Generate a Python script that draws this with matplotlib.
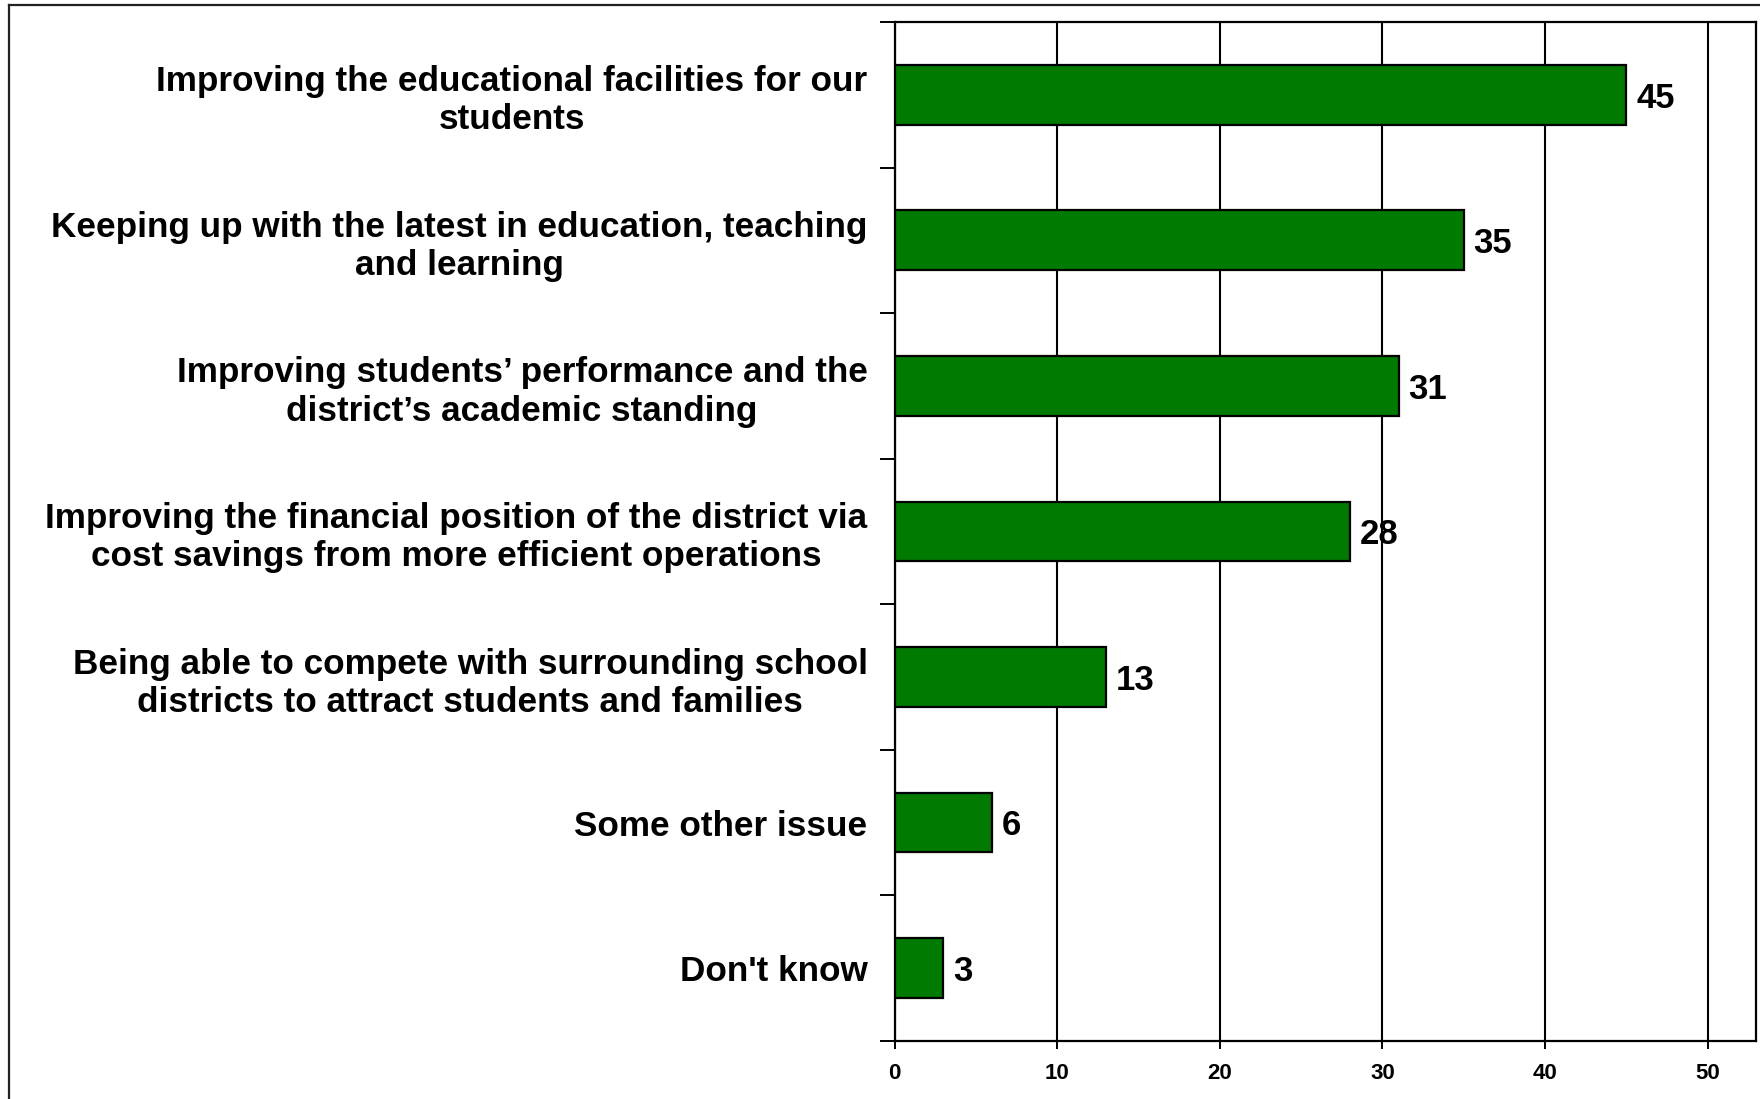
import numpy as np
import matplotlib
matplotlib.use("Agg")
from matplotlib import pyplot as plt
from matplotlib.lines import Line2D

plt.rcParams['font.family'] = ['Liberation Sans', 'DejaVu Sans']

# survey answers, top to bottom
categories = [
    "Improving the educational facilities for our\nstudents",
    "Keeping up with the latest in education, teaching\nand learning",
    "Improving students\u2019 performance and the\ndistrict\u2019s academic standing",
    "Improving the financial position of the district via\ncost savings from more efficient operations",
    "Being able to compete with surrounding school\ndistricts to attract students and families",
    "Some other issue",
    "Don't know",
]
values = [45, 35, 31, 28, 13, 6, 3]
xticks = [0, 10, 20, 30, 40, 50]

barColor = "#007A00"


def drawChart():
    fig = plt.figure(figsize=(17.6, 10.99), dpi=100)
    ax = fig.add_axes([0.5083, 0.0528, 0.4897, 0.9272])

    ypos = np.arange(len(categories))
    ax.barh(ypos, values, height=0.41, color=barColor, edgecolor="black",
            linewidth=1.6, zorder=3)

    # value labels just right of each bar
    for y, v in zip(ypos, values):
        ax.annotate(str(v), (v, y), xytext=(7, -2.4), textcoords="offset points",
                    va="center", ha="left", fontsize=25, fontweight="bold",
                    zorder=4)

    ax.set_xlim(0, 53)
    ax.set_ylim(len(categories) - 0.5, -0.5)

    ax.set_xticks(xticks)
    ax.set_xticklabels([str(t) for t in xticks], fontsize=16, fontweight="bold")
    ax.tick_params(axis="x", direction="out", length=6, width=1.4, pad=10)

    # category names as major labels, boundary ticks as minor
    ax.set_yticks(ypos)
    ax.set_yticklabels(categories, fontsize=25.3, fontweight="bold",
                       multialignment="center")
    ax.tick_params(axis="y", which="major", length=0, pad=19.5)
    ax.set_yticks(np.arange(-0.5, len(categories), 1.0), minor=True)
    ax.tick_params(axis="y", which="minor", direction="out", length=11, width=1.4)

    ax.xaxis.grid(True, color="black", linewidth=1.5, zorder=0)
    ax.set_axisbelow(True)
    for s in ax.spines.values():
        s.set_linewidth(1.6)

    # outer frame of the slide, cut off at right and bottom
    fig.add_artist(Line2D([9 / 1760, 9 / 1760], [0, 1 - 5 / 1099],
                          transform=fig.transFigure, color="#222222", lw=1.6))
    fig.add_artist(Line2D([9 / 1760, 1], [1 - 5 / 1099, 1 - 5 / 1099],
                          transform=fig.transFigure, color="#222222", lw=1.6))
    return fig


fig = drawChart()
fig.savefig("out.png", dpi=100)
